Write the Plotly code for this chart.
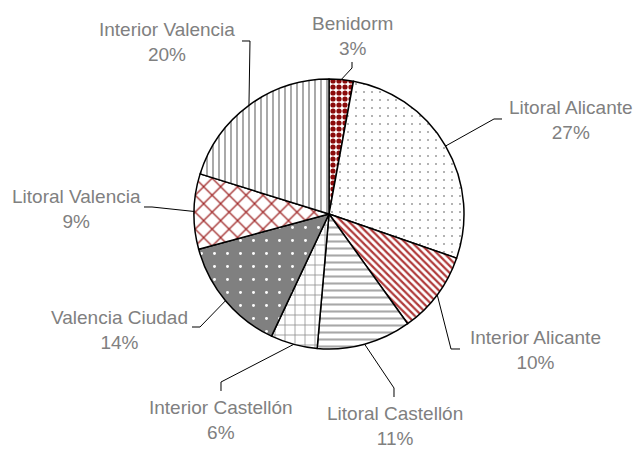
import math
import plotly.graph_objects as go

# ---- data ----
regions = ["Benidorm", "Litoral Alicante", "Interior Alicante", "Litoral Castellón",
           "Interior Castellón", "Valencia Ciudad", "Litoral Valencia", "Interior Valencia"]
shares = [2.9, 27.4, 9.8, 11.3, 5.6, 13.8, 9.0, 20.2]

# ---- styles ----
shapes_p = [".", ".", "\\", "-", "+", ".", "x", "|"]
fg = ["#8B0A0A", "#9a9a9a", "#B03A3A", "#a8a8a8", "#8a8a8a", "#ffffff", "#A02828", "#a0a0a0"]
bg = ["#ffffff", "#ffffff", "#ffffff", "#ffffff", "#ffffff", "#808080", "#ffffff", "#ffffff"]
psize = [6, 8, 5, 7, 10, 13, 12, 6]
psolid = [0.6, 0.05, 0.45, 0.3, 0.15, 0.04, 0.2, 0.3]

W, H = 640, 449
CX, CY, R = 329, 214, 135

# label block centres and leader elbows (pixels)
label_pos = [(352, 35.5), (571, 120), (535, 349.5), (395, 426),
             (221, 420), (119, 329.5), (76, 209.5), (167, 42.5)]
leader = [[(352, 62), (352, 68)], [(502, 119), (494, 119)], [(460, 349), (451, 349)],
          [(394, 397), (394, 388)], [(221, 391), (221, 382)], [(192, 327), (200, 327)],
          [(144, 207), (152, 207)], [(242, 41), (250, 41)]]

fig = go.Figure(go.Pie(
    labels=regions, values=shares, sort=False, direction="clockwise", rotation=0,
    textinfo="none", hoverinfo="label+percent",
    marker=dict(line=dict(color="black", width=1.5),
                pattern=dict(shape=shapes_p, fgcolor=fg, bgcolor=bg, size=psize,
                             solidity=psolid, fillmode="replace")),
    domain=dict(x=[(CX - R) / W, (CX + R) / W], y=[(H - CY - R) / H, (H - CY + R) / H]),
    showlegend=False,
))

def px(x, y):
    return x / W, 1 - y / H

total = sum(shares)
cum = 0
annotations = []
shapes = []
for name, v, (lx, ly), pts in zip(regions, shares, label_pos, leader):
    mid = (cum + v / 2) / total * 2 * math.pi
    cum += v
    ex, ey = CX + R * math.sin(mid), CY - R * math.cos(mid)
    path_pts = pts + [(ex, ey)]
    d = "M " + " L ".join(f"{px(x, y)[0]:.5f},{px(x, y)[1]:.5f}" for x, y in path_pts)
    shapes.append(dict(type="path", path=d, xref="paper", yref="paper",
                       line=dict(color="black", width=1)))
    pct = round(v / total * 100)
    ax, ay = px(lx, ly)
    annotations.append(dict(text=f"{name}<br>{pct}%", x=ax, y=ay, xref="paper", yref="paper",
                            xanchor="center", yanchor="middle", showarrow=False,
                            font=dict(family="Liberation Sans", size=19, color="#808080")))

fig.update_layout(width=W, height=H, margin=dict(l=0, r=0, t=0, b=0),
                  paper_bgcolor="white", plot_bgcolor="white",
                  annotations=annotations, shapes=shapes)
fig.write_html("out.html", config={"displayModeBar": False},
               post_script="document.body.style.margin='0';")
